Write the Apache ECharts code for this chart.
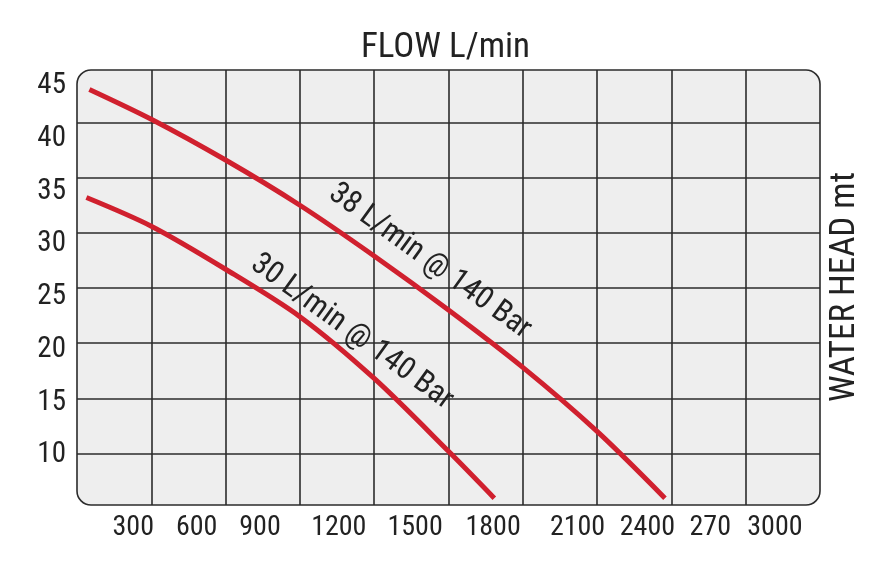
<!DOCTYPE html>
<html lang="en">
<head>
    <meta charset="UTF-8">
    <title>FLOW L/min</title>
    <script src="https://cdn.jsdelivr.net/npm/echarts@6/dist/echarts.min.js"></script>
    <style>
        html, body { margin: 0; padding: 0; background: #fff; }
        #paint { width: 891px; height: 578px; }
    </style>
</head>
<body>
<div id="paint"></div>

<script type="text/javascript">
    // pump curves (flow L/min, head mt)
    var flow38 = [50, 300, 600, 900, 1200, 1500, 1800, 2100, 2374];
    var head38 = [43.0, 40.3, 36.6, 32.5, 27.9, 23.0, 17.8, 12.0, 5.95];
    var flow30 = [38, 300, 600, 900, 1200, 1500, 1685];
    var head30 = [33.2, 30.6, 26.7, 22.4, 16.8, 10.2, 5.95];

    var seriesNames = ['38 L/min @ 140 Bar', '30 L/min @ 140 Bar'];
    // where the curve captions sit, in chart units
    var captionAt = [[1425, 27.4], [1110, 21.0]];

    var xTickLabels = ['300', '600', '900', '1200', '1500', '1800', '2100', '2400', '270', '3000'];
    var yTickLabels = [10, 15, 20, 25, 30, 35, 40, 45];
    var gridHead = [10, 15, 20, 25, 30, 35, 40];

    // the printed flow labels are not under their grid lines
    var xLabelAt = [227, 483, 739, 1057, 1365, 1680, 2021, 2303, 2557, 2818];
</script>

<script type="text/javascript">
    var font = '"Liberation Sans Narrow", "Roboto Condensed", Roboto, sans-serif';
    var ink = '#222';
    var red = '#d0202e';
    var box = {left: 77, top: 70, width: 743, height: 435};

    function pairs(xs, ys) {
        var out = [];
        for (var i = 0; i < xs.length; i++) out.push([xs[i], ys[i]]);
        return out;
    }

    var myChart = echarts.init(document.getElementById('paint'));

    var option = {
        animation: false,
        title: {
            text: 'FLOW L/min',
            left: 'center',
            top: 26,
            textStyle: {fontFamily: font, fontSize: 35, fontWeight: 'normal', color: ink}
        },
        graphic: [
            {
                type: 'rect', z: -10, silent: true,
                shape: {x: box.left, y: box.top, width: box.width, height: box.height, r: 14},
                style: {fill: '#eeeeee', stroke: null}
            },
            {
                type: 'rect', z: 100, silent: true,
                shape: {x: box.left, y: box.top, width: box.width, height: box.height, r: 14},
                style: {fill: null, stroke: '#2b2b2b', lineWidth: 1.6}
            },
            {
                type: 'text', z: 100, silent: true,
                x: 845, y: 287, rotation: Math.PI / 2,
                style: {
                    text: 'WATER HEAD mt', fill: ink,
                    font: 'normal 35px ' + font,
                    textAlign: 'center', textVerticalAlign: 'middle'
                }
            }
        ],
        grid: {left: box.left, top: box.top, width: box.width, height: box.height, containLabel: false},
        xAxis: [{
            type: 'value', min: 0, max: 3000, interval: 300,
            axisLine: {show: false}, axisTick: {show: false}, axisLabel: {show: false},
            splitLine: {show: true, showMinLine: false, showMaxLine: false,
                lineStyle: {color: '#2b2b2b', width: 1.6}}
        }, {
            type: 'value', min: 0, max: 3000, position: 'bottom',
            axisLine: {show: false}, axisTick: {show: false}, splitLine: {show: false},
            axisLabel: {
                customValues: xLabelAt,
                margin: 9,
                fontFamily: font, fontSize: 28, color: ink,
                formatter: function (v) {
                    var i = xLabelAt.indexOf(v);
                    return i < 0 ? '' : xTickLabels[i];
                }
            }
        }],
        yAxis: [{
            type: 'value', min: 5.33, max: 44.76,
            axisLine: {show: false}, axisTick: {show: false}, axisLabel: {show: false},
            splitLine: {show: false}
        }, {
            type: 'value', min: 5.26, max: 46.52, position: 'left',
            axisLine: {show: false}, axisTick: {show: false}, splitLine: {show: false},
            axisLabel: {
                customValues: yTickLabels,
                margin: 11,
                fontFamily: font, fontSize: 29, color: ink
            }
        }],
        series: [{
            name: 'grid',
            type: 'line',
            data: [],
            silent: true,
            markLine: {
                silent: true, symbol: 'none',
                label: {show: false},
                lineStyle: {color: '#2b2b2b', width: 1.6, type: 'solid'},
                data: gridHead.map(function (v) { return {yAxis: v}; })
            }
        }].concat([[flow38, head38], [flow30, head30]].map(function (d, k) {
            return {
                name: seriesNames[k],
                type: 'line',
                xAxisIndex: 0, yAxisIndex: 0,
                data: pairs(d[0], d[1]),
                smooth: 0.3,
                symbol: 'none',
                z: 5,
                lineStyle: {color: red, width: 5, cap: 'butt'},
                markPoint: {
                    symbol: 'rect', symbolSize: 1,
                    itemStyle: {color: 'transparent'},
                    label: {
                        show: true, position: 'inside', rotate: -36,
                        fontFamily: font, fontSize: 31, color: ink,
                        formatter: seriesNames[k]
                    },
                    data: [{coord: captionAt[k]}]
                }
            };
        }))
    };
    myChart.setOption(option);
</script>
</body>
</html>
